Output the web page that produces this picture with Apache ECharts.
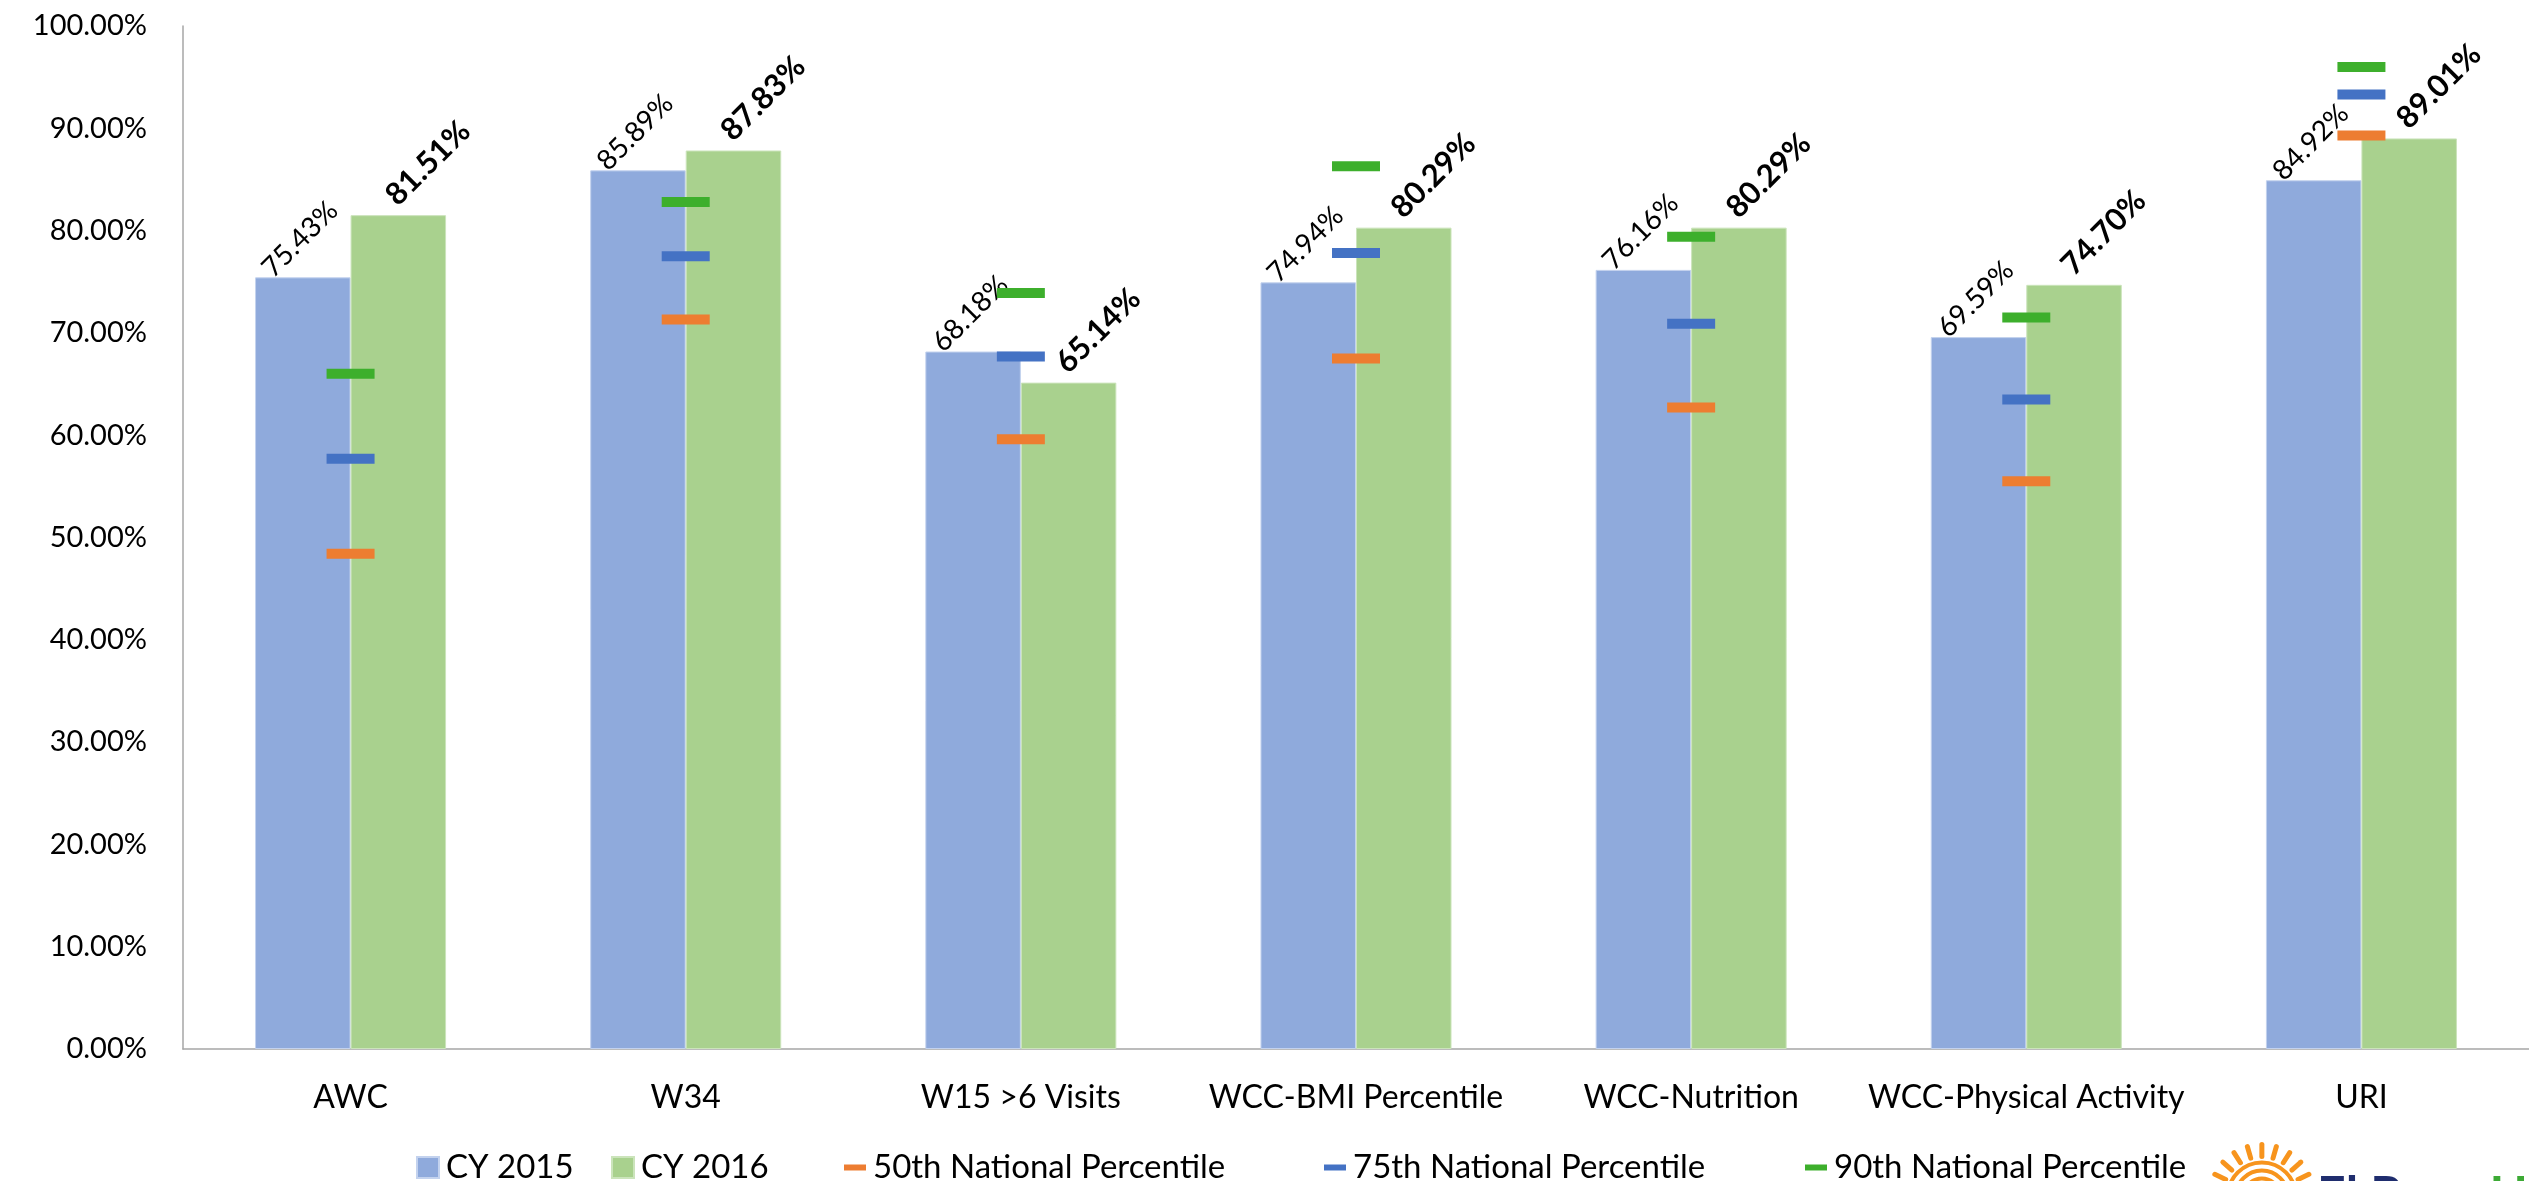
<!DOCTYPE html>
<html>
<head>
<meta charset="utf-8">
<title>HEDIS Measures CY 2015 vs CY 2016</title>
<script src="https://cdn.jsdelivr.net/npm/echarts@6/dist/echarts.min.js"></script>
<style>
  html, body { margin: 0; padding: 0; background: #ffffff; }
  #chart { width: 2529px; height: 1181px; }
</style>
</head>
<body>
<div id="chart"></div>
<script>
// Measures shown along the category axis
const categories = ['AWC', 'W34', 'W15 >6 Visits', 'WCC-BMI Percentile', 'WCC-Nutrition', 'WCC-Physical Activity', 'URI'];

// Plan rates by calendar year (percent)
const cy2015 = [75.43, 85.89, 68.18, 74.94, 76.16, 69.59, 84.92];
const cy2016 = [81.51, 87.83, 65.14, 80.29, 80.29, 74.70, 89.01];

// National benchmark percentiles (percent)
const p50 = [48.4, 71.3, 59.6, 67.5, 62.7, 55.5, 89.3];
const p75 = [57.7, 77.5, 67.7, 77.8, 70.9, 63.5, 93.3];
const p90 = [66.0, 82.8, 73.9, 86.3, 79.4, 71.5, 96.0];

// Value axis ticks
const yMin = 0, yMax = 100, yStep = 10;

const FONT = 'Lato';
const chart = echarts.init(document.getElementById('chart'), null, { renderer: 'canvas' });

const pct = v => Number(v).toFixed(2) + '%';
const dash = 'path://M0,0h22v6h-22z';

function benchmark(name, data, color) {
  return {
    name, type: 'scatter', data,
    symbol: 'rect', symbolSize: [48, 10],
    itemStyle: { color, opacity: 1 },
    z: 5, silent: true
  };
}

// one legend block per entry, each starting at its own x
const legendEntries = [
  ['CY 2015', 'rect', 411],
  ['CY 2016', 'rect', 606],
  ['50th National Percentile', dash, 839],
  ['75th National Percentile', dash, 1319],
  ['90th National Percentile', dash, 1800]
];
const legends = legendEntries.map(([name, icon, left]) => ({
  left, top: 1146,
  itemWidth: 22, itemHeight: 21,
  textStyle: { color: '#000', fontSize: 33, fontFamily: FONT, padding: [0, 0, 0, 2] },
  data: [{ name, icon }]
}));

chart.setOption({
  animation: false,
  textStyle: { fontFamily: FONT },
  grid: { left: 183, right: 0, top: 26, bottom: 132, containLabel: false },
  xAxis: {
    type: 'category',
    data: categories,
    axisTick: { show: false },
    axisLine: { lineStyle: { color: '#A6A6A6', width: 1.5 } },
    axisLabel: { color: '#000', fontSize: 32, fontFamily: FONT, margin: 33, interval: 0 }
  },
  yAxis: {
    type: 'value',
    min: yMin, max: yMax, interval: yStep,
    splitLine: { show: false },
    axisTick: { show: false },
    axisLine: { show: true, lineStyle: { color: '#A6A6A6', width: 1.5 } },
    axisLabel: { color: '#000', fontSize: 29, fontFamily: FONT, margin: 36, formatter: pct }
  },
  legend: legends,
  series: [
    {
      name: 'CY 2015', type: 'bar', data: cy2015,
      barGap: '0%', barCategoryGap: '43%',
      itemStyle: { color: '#8FAADC', borderColor: '#C3D2EE', borderWidth: 1 },
      label: {
        show: true, position: 'top', distance: 38, rotate: 45,
        align: 'center', verticalAlign: 'middle', offset: [-2, -2],
        color: '#000', fontSize: 28, fontFamily: FONT,
        formatter: p => pct(p.value)
      }
    },
    {
      name: 'CY 2016', type: 'bar', data: cy2016,
      itemStyle: { color: '#A9D18E', borderColor: '#CBE4BB', borderWidth: 1 },
      label: {
        show: true, position: 'top', distance: 52, rotate: 45,
        align: 'center', verticalAlign: 'middle', offset: [21, 21],
        color: '#000', fontSize: 31, fontWeight: 'bold', fontFamily: FONT,
        formatter: p => pct(p.value)
      }
    },
    benchmark('50th National Percentile', p50, '#ED7D31'),
    benchmark('75th National Percentile', p75, '#4472C4'),
    benchmark('90th National Percentile', p90, '#3DAF2C')
  ],
  graphic: [
    // sun emblem and wordmark in the lower right corner
    {
      type: 'group', left: 2208, top: 1142, silent: true,
      children: (function () {
        const cx = 52, cy = 62, items = [];
        for (let i = 0; i < 11; i++) {
          const a = Math.PI * (0.05 + 0.9 * i / 10);
          items.push({
            type: 'line',
            shape: { x1: cx - Math.cos(a) * 40, y1: cy - Math.sin(a) * 40, x2: cx - Math.cos(a) * 52, y2: cy - Math.sin(a) * 52 },
            style: { stroke: '#F7941D', lineWidth: 5, lineCap: 'round' }
          });
        }
        [34, 26, 18].forEach(r => items.push({
          type: 'arc', shape: { cx, cy, r, startAngle: Math.PI, endAngle: 2 * Math.PI },
          style: { stroke: '#F7941D', lineWidth: 4, fill: null }
        }));
        return items;
      })()
    },
    {
      type: 'text', left: 2317, top: 1171, silent: true,
      style: {
        text: '{a|El P}{b|aso }{c|Health}',
        rich: {
          a: { fontSize: 50, fontWeight: 'bold', fill: '#1F2D6E', fontFamily: FONT },
          b: { fontSize: 50, fontWeight: 'bold', fill: '#9DB3D6', fontFamily: FONT },
          c: { fontSize: 50, fontWeight: 'bold', fill: '#3DAA35', fontFamily: FONT }
        }
      }
    }
  ]
});
</script>
</body>
</html>
